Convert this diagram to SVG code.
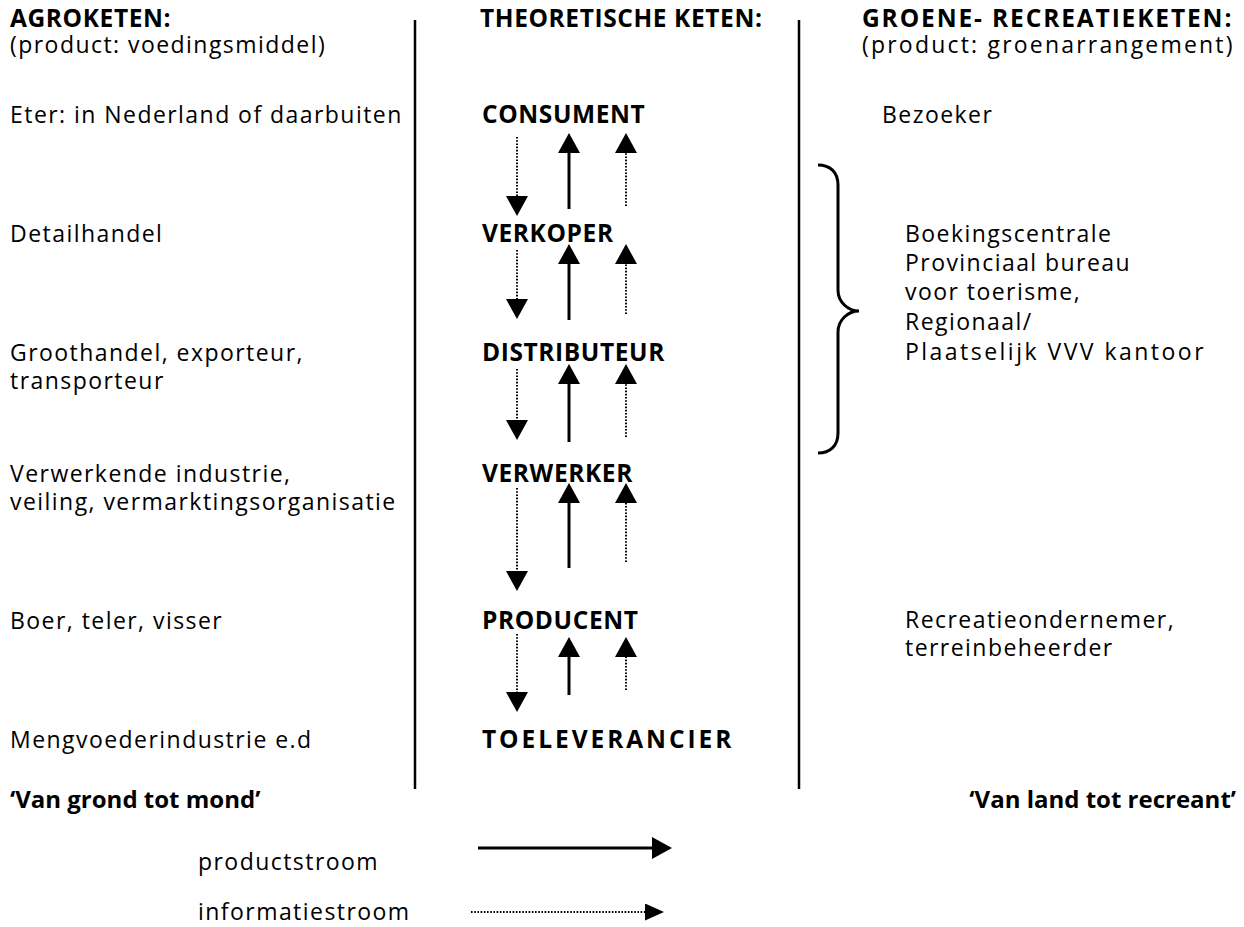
<svg xmlns="http://www.w3.org/2000/svg" width="1244" height="927" viewBox="0 0 1244 927">
<style>
text{font-family:"Open Sans","Noto Sans","DejaVu Sans",sans-serif;font-size:23px;fill:#000;letter-spacing:1.45px}
.b{font-weight:bold;font-size:24.5px;letter-spacing:0.6px}
.q{font-weight:bold;font-size:24px;letter-spacing:0}
.sep{stroke:#000;stroke-width:2.5;fill:none}
.solid{stroke:#000;stroke-width:3;fill:none}
.dot{stroke:#000;stroke-width:2;stroke-dasharray:1.6 1.6;fill:none}
</style>
<defs>
<marker id="ah" markerUnits="userSpaceOnUse" markerWidth="21" markerHeight="23" refX="0" refY="11" orient="auto">
<path d="M0,0 L20,11 L0,22 Z" fill="#000"/>
</marker>
<marker id="ahs" markerUnits="userSpaceOnUse" markerWidth="20" markerHeight="18" refX="0" refY="8.5" orient="auto">
<path d="M0,0 L19,8.5 L0,17 Z" fill="#000"/>
</marker>
</defs>
<rect width="1244" height="927" fill="#fff"/>
<g id="separators">
<line class="sep" x1="415" y1="20" x2="415" y2="789"/>
<line class="sep" x1="799" y1="20" x2="799" y2="789"/>
</g>
<g id="col-agro">
<text class="b" x="10" y="27">AGROKETEN:</text>
<text x="10" y="53">(product: voedingsmiddel)</text>
<text x="10" y="123">Eter: in Nederland of daarbuiten</text>
<text x="10" y="242">Detailhandel</text>
<text x="10" y="361">Groothandel, exporteur,</text>
<text x="10" y="389">transporteur</text>
<text x="10" y="482">Verwerkende industrie,</text>
<text x="10" y="510">veiling, vermarktingsorganisatie</text>
<text x="10" y="629">Boer, teler, visser</text>
<text x="10" y="748">Mengvoederindustrie e.d</text>
<text class="q" x="10" y="808">‘Van grond tot mond’</text>
</g>
<g id="col-theory">
<text class="b" x="480" y="27">THEORETISCHE KETEN:</text>
<g id="n-consument"><text class="b" x="482" y="123">CONSUMENT</text></g>
<g id="n-verkoper"><text class="b" x="482" y="242">VERKOPER</text></g>
<g id="n-distributeur"><text class="b" x="482" y="361">DISTRIBUTEUR</text></g>
<g id="n-verwerker"><text class="b" x="482" y="482">VERWERKER</text></g>
<g id="n-producent"><text class="b" x="482" y="629">PRODUCENT</text></g>
<g id="n-toeleverancier"><text class="b" x="482" y="748" textLength="250" lengthAdjust="spacing">TOELEVERANCIER</text></g>
</g>
<g id="col-recreatie">
<text class="b" x="862" y="27" textLength="370" lengthAdjust="spacing">GROENE- RECREATIEKETEN:</text>
<text x="862" y="53" textLength="372" lengthAdjust="spacing">(product: groenarrangement)</text>
<text x="882" y="123">Bezoeker</text>
<text x="905" y="242">Boekingscentrale</text>
<text x="905" y="271">Provinciaal bureau</text>
<text x="905" y="300">voor toerisme,</text>
<text x="905" y="330">Regionaal/</text>
<text x="905" y="360" textLength="300" lengthAdjust="spacing">Plaatselijk VVV kantoor</text>
<text x="905" y="628">Recreatieondernemer,</text>
<text x="905" y="656">terreinbeheerder</text>
<text class="q" x="1236" y="808" text-anchor="end">‘Van land tot recreant’</text>
<path id="brace" class="solid" stroke-width="2.5" d="M818,165 C830,165 838,172 838,185 L838,290 C838,302 848,311 859,311 C848,311 838,320 838,332 L838,433 C838,446 830,453 818,453"/>
</g>
<g id="connectors">
<line class="dot" x1="517" y1="137" x2="517" y2="196" marker-end="url(#ah)"/>
<line class="solid" x1="569" y1="209" x2="569" y2="153" marker-end="url(#ah)"/>
<line class="dot" x1="626" y1="206" x2="626" y2="153" marker-end="url(#ah)"/>

<line class="dot" x1="517" y1="250" x2="517" y2="299" marker-end="url(#ah)"/>
<line class="solid" x1="569" y1="320" x2="569" y2="264" marker-end="url(#ah)"/>
<line class="dot" x1="626" y1="314" x2="626" y2="264" marker-end="url(#ah)"/>

<line class="dot" x1="517" y1="369" x2="517" y2="420" marker-end="url(#ah)"/>
<line class="solid" x1="569" y1="442" x2="569" y2="384" marker-end="url(#ah)"/>
<line class="dot" x1="626" y1="437" x2="626" y2="384" marker-end="url(#ah)"/>

<line class="dot" x1="517" y1="488" x2="517" y2="571" marker-end="url(#ah)"/>
<line class="solid" x1="569" y1="568" x2="569" y2="503" marker-end="url(#ah)"/>
<line class="dot" x1="626" y1="562" x2="626" y2="503" marker-end="url(#ah)"/>

<line class="dot" x1="517" y1="634" x2="517" y2="692" marker-end="url(#ah)"/>
<line class="solid" x1="569" y1="695" x2="569" y2="657" marker-end="url(#ah)"/>
<line class="dot" x1="626" y1="690" x2="626" y2="657" marker-end="url(#ah)"/>
</g>
<g id="legend">
<text x="198" y="870">productstroom</text>
<line class="solid" x1="478" y1="848" x2="652" y2="848" marker-end="url(#ah)"/>
<text x="198" y="920">informatiestroom</text>
<line class="dot" x1="471" y1="912" x2="645" y2="912" marker-end="url(#ahs)"/>
</g>
</svg>
